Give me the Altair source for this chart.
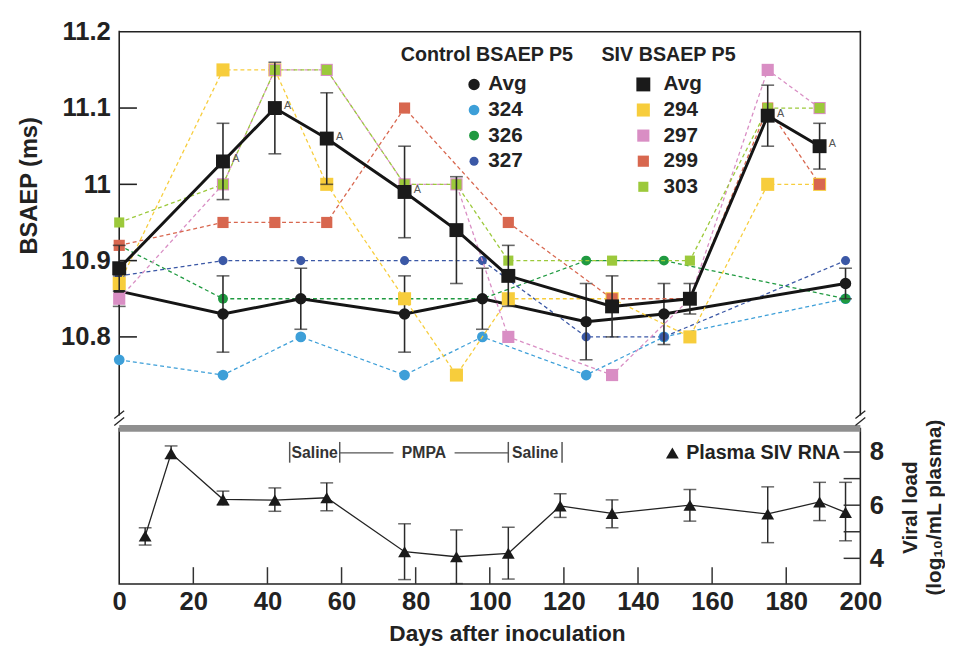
import altair as alt
import pandas as pd

# ---------------- data ----------------
ctrl_days = [0, 28, 49, 77, 98, 126, 147, 196]
ctrl_avg = [10.86, 10.83, 10.85, 10.83, 10.85, 10.82, 10.83, 10.87]
ctrl_lo = [10.84, 10.78, 10.81, 10.78, 10.81, 10.77, 10.79, 10.85]
ctrl_hi = [10.88, 10.88, 10.89, 10.88, 10.89, 10.87, 10.87, 10.89]
ctrl_324 = [10.77, 10.75, 10.80, 10.75, 10.80, 10.75, 10.80, 10.85]
ctrl_326 = [10.92, 10.85, 10.85, 10.85, 10.85, 10.90, 10.90, 10.85]
ctrl_327 = [10.88, 10.90, 10.90, 10.90, 10.90, 10.80, 10.80, 10.90]

siv_days = [0, 28, 42, 56, 77, 91, 105, 133, 154, 175, 189]
siv_avg = [10.89, 11.03, 11.10, 11.06, 10.99, 10.94, 10.88, 10.84, 10.85, 11.09, 11.05]
siv_lo = [10.86, 10.98, 11.04, 11.00, 10.93, 10.87, 10.84, 10.80, 10.83, 11.05, 11.02]
siv_hi = [10.92, 11.08, 11.16, 11.12, 11.05, 11.01, 10.92, 10.88, 10.87, 11.13, 11.08]
siv_294 = [10.87, 11.15, 11.15, 11.00, 10.85, 10.75, 10.85, 10.85, 10.80, 11.00, 11.00]
siv_297 = [10.85, 11.00, 11.15, 11.15, 11.00, 11.00, 10.80, 10.75, 10.85, 11.15, 11.10]
siv_299 = [10.92, 10.95, 10.95, 10.95, 11.10, None, 10.95, 10.85, 10.85, 11.10, 11.00]
siv_303 = [10.95, 11.00, 11.15, 11.15, 11.00, 11.00, 10.90, 10.90, 10.90, 11.10, 11.10]
siv_sig = [False, True, True, True, True, False, False, False, False, True, True]

vl_days = [7, 14, 28, 42, 56, 77, 91, 105, 119, 133, 154, 175, 189, 196]
vl_mean = [4.84, 7.95, 6.22, 6.19, 6.28, 4.25, 4.06, 4.19, 5.97, 5.69, 6.00, 5.67, 6.12, 5.73]
vl_lo = [4.50, 7.75, 6.00, 5.77, 5.79, 3.20, 3.05, 3.22, 5.54, 5.15, 5.40, 4.59, 5.42, 4.66]
vl_hi = [5.15, 8.23, 6.53, 6.65, 6.84, 5.30, 5.07, 5.17, 6.43, 6.20, 6.59, 6.69, 6.86, 6.86]

phase_bounds = [46, 59.5, 105, 119.5]
phase_names = ["Saline", "PMPA", "Saline"]
pmpa_seg_start = [59.5, 90.5]
pmpa_seg_end = [74, 105]

ctrl_series = ["Avg", "324", "326", "327"]
siv_series = ["Avg", "294", "297", "299", "303"]
vl_series = ["Plasma SIV RNA"]

top_label_values = [10.8, 10.9, 11.0, 11.1, 11.2]
top_tick_values = [10.8, 10.9, 11.0, 11.1]
bot_x_labels = [0, 20, 40, 60, 80, 100, 120, 140, 160, 180, 200]
bot_x_ticks = [20, 40, 60, 80, 100, 120, 140, 160, 180]
bot_y_labels = [4, 6, 8]
bot_y_ticks = [4, 5, 6, 7, 8]

# ---------------- styles ----------------
F = "Liberation Sans"
INK = "#222222"
ctrl_colors = ["#1a1a1a", "#3d9fd8", "#1f9a40", "#3b58a6"]
siv_colors = ["#1a1a1a", "#f7cd3c", "#d98ec4", "#d8674f", "#9cc93b"]
W, HT, HB = 753, 390, 158

# ---------------- tables ----------------
def long_table(days, series):
    rows = []
    for name, vals in series.items():
        for d, v in zip(days, vals):
            if v is not None:
                rows.append({"day": d, "value": v, "series": name})
    return pd.DataFrame(rows)

ctrl_df = long_table(ctrl_days, {"Avg": ctrl_avg, "324": ctrl_324, "326": ctrl_326, "327": ctrl_327})
siv_df = long_table(siv_days, {"Avg": siv_avg, "294": siv_294, "297": siv_297, "299": siv_299, "303": siv_303})
ctrl_err = pd.DataFrame({"day": ctrl_days, "lo": ctrl_lo, "hi": ctrl_hi})
siv_err = pd.DataFrame({"day": siv_days, "lo": siv_lo, "hi": siv_hi})
siv_a = pd.DataFrame({"day": siv_days, "value": siv_avg, "sig": siv_sig})
siv_a = siv_a[siv_a["sig"]]
vl_df = pd.DataFrame({"day": vl_days, "mean": vl_mean, "lo": vl_lo, "hi": vl_hi,
                      "label": vl_series * len(vl_days)})
phase_df = pd.DataFrame({"bound": phase_bounds})
phase_lab = pd.DataFrame({"name": phase_names,
                          "mid": [(a + b) / 2 for a, b in zip(phase_bounds[:-1], phase_bounds[1:])]})
seg_df = pd.DataFrame({"s": pmpa_seg_start, "e": pmpa_seg_end})
one = pd.DataFrame({"k": [0]})

# ---------------- top panel ----------------
x_scale = alt.Scale(domain=[0, 200], nice=False, zero=False)
yt_scale = alt.Scale(domain=[10.6968, 11.2], nice=False, zero=False)
yt_axis = alt.Axis(values=top_label_values, format=".3~g", labelFont=F, labelFontSize=26,
                   labelFontWeight="bold", labelColor=INK, ticks=False, tickSize=0, domain=False,
                   grid=False, labelPadding=9, labelFlush=False, labelOverlap=False,
                   title="BSAEP (ms)", titleFont=F, titleFontSize=24, titleFontWeight="bold",
                   titleColor=INK, titleAngle=270, titleX=-91, titleY=156, titleAlign="center",
                   titleBaseline="middle")

def XT(f="day"):
    return alt.X(f"{f}:Q", scale=x_scale, axis=None)

def YT(f="value"):
    return alt.Y(f"{f}:Q", scale=yt_scale, axis=yt_axis)

frame_l = alt.Chart(one).mark_rule(color=INK, strokeWidth=1.6).encode(
    x=alt.value(0), y=alt.value(-1), y2=alt.value(HT))
frame_t = alt.Chart(one).mark_rule(color=INK, strokeWidth=1.6).encode(
    x=alt.value(0), x2=alt.value(W), y=alt.value(0))
frame_r = alt.Chart(one).mark_rule(color=INK, strokeWidth=1.6).encode(
    x=alt.value(W), y=alt.value(-1), y2=alt.value(HT))
brk_l = alt.Chart(one).mark_rule(color=INK, strokeWidth=1.3).encode(
    x=alt.value(-5), x2=alt.value(5), y=alt.value(HT + 3), y2=alt.value(HT - 5))
brk_r = alt.Chart(one).mark_rule(color=INK, strokeWidth=1.3).encode(
    x=alt.value(W - 5), x2=alt.value(W + 5), y=alt.value(HT + 3), y2=alt.value(HT - 5))
top_ticks = alt.Chart(pd.DataFrame({"value": top_tick_values})).mark_rule(
    color=INK, strokeWidth=1.6).encode(y=YT(), x=alt.value(0), x2=alt.value(18))


def group_layers(df, err, series, colors, sizes, shape, legend):
    cscale = alt.Scale(domain=series, range=colors)
    enc = dict(
        x=XT(), y=YT(),
        color=alt.Color("series:N", scale=cscale, legend=legend),
        shape=alt.Shape("series:N", scale=alt.Scale(domain=series, range=[shape] * len(series)), legend=legend),
        size=alt.Size("series:N", scale=alt.Scale(domain=series, range=sizes), legend=legend),
    )
    lines = []
    for name, col in zip(series[1:], colors[1:]):
        lines.append(
            alt.Chart(df).transform_filter(alt.datum.series == name).mark_line(
                strokeDash=[4, 3], strokeWidth=1.3, color=col).encode(x=XT(), y=YT()))
    pts = alt.Chart(df).transform_filter("datum.series != 'Avg'").mark_point(
        filled=True, opacity=1, strokeWidth=0).encode(**enc)
    ebar = alt.Chart(err).mark_errorbar(ticks=True, size=13, thickness=1.6, color="#2a2a2a").encode(
        x=XT(), y=YT("lo"), y2="hi:Q")
    avg_line = alt.Chart(df).transform_filter("datum.series == 'Avg'").mark_line(
        color="#151515", strokeWidth=3).encode(x=XT(), y=YT())
    avg_pts = alt.Chart(df).transform_filter("datum.series == 'Avg'").mark_point(
        filled=True, opacity=1, strokeWidth=0).encode(**enc)
    return lines + [pts, ebar, avg_line, avg_pts]


ctrl_legend = alt.Legend(orient="none", legendX=286, legendY=14, title="Control BSAEP P5",
                         titleFont=F, titleFontSize=20, titleFontWeight="bold", titleColor=INK,
                         titlePadding=9, labelFont=F, labelFontSize=21, labelFontWeight="bold",
                         labelColor=INK, labelOffset=4, symbolOffset=64, rowPadding=4, padding=0,
                         symbolStrokeWidth=0, direction="vertical")
siv_legend = alt.Legend(orient="none", legendX=490, legendY=14, title="SIV BSAEP P5",
                        titleFont=F, titleFontSize=20, titleFontWeight="bold", titleColor=INK,
                        titlePadding=9, labelFont=F, labelFontSize=21, labelFontWeight="bold",
                        labelColor=INK, labelOffset=10, symbolOffset=32, rowPadding=4, padding=0,
                        symbolStrokeWidth=0, direction="vertical")

ctrl_group = alt.layer(*group_layers(ctrl_df, ctrl_err, ctrl_series, ctrl_colors,
                                     [135, 85, 85, 85], "circle", ctrl_legend))
siv_text = alt.Chart(siv_a).mark_text(text="A", dx=13, dy=-2, fontSize=11, font=F,
                                      color="#555555").encode(x=XT(), y=YT())
siv_group = alt.layer(*group_layers(siv_df, siv_err, siv_series, siv_colors,
                                    [200, 105, 105, 105, 105], "square", siv_legend), siv_text)

top = alt.layer(frame_l, frame_t, frame_r, brk_l, brk_r, top_ticks, ctrl_group, siv_group).resolve_scale(
    color="independent", shape="independent", size="independent"
).properties(width=W, height=HT, view=alt.ViewBackground(strokeOpacity=0))

# ---------------- bottom panel ----------------
yb_scale = alt.Scale(domain=[3.037, 8.889], nice=False, zero=False)
xb_axis = alt.Axis(values=bot_x_labels, labelFont=F, labelFontSize=26, labelFontWeight="bold",
                   labelColor=INK, ticks=False, tickSize=0, domain=False, grid=False, labelPadding=5,
                   labelFlush=False, labelOverlap=False,
                   title="Days after inoculation", titleFont=F, titleFontSize=23,
                   titleFontWeight="bold", titleColor=INK, titleX=394, titleY=57,
                   titleAlign="center", titleBaseline="alphabetic")
yb_axis = alt.Axis(orient="right", values=bot_y_labels, labelFont=F, labelFontSize=26,
                   labelFontWeight="bold", labelColor=INK, ticks=False, tickSize=0, domain=False,
                   grid=False, labelPadding=9, labelFlush=False, labelOverlap=False,
                   title=["Viral load", "(log\u2081\u2080/mL plasma)"], titleFont=F, titleFontSize=21,
                   titleFontWeight="bold", titleColor=INK, titleAngle=270, titleX=51, titleY=80,
                   titleAlign="center", titleBaseline="middle", titleLineHeight=24)

def XB(f="day"):
    return alt.X(f"{f}:Q", scale=x_scale, axis=xb_axis)

def YB(f):
    return alt.Y(f"{f}:Q", scale=yb_scale, axis=yb_axis)

band = alt.Chart(one).mark_rule(color="#8f8f8f", strokeWidth=7).encode(
    x=alt.value(0), x2=alt.value(W), y=alt.value(0))
bbrk_l = alt.Chart(one).mark_rule(color=INK, strokeWidth=1.3).encode(
    x=alt.value(-5), x2=alt.value(5), y=alt.value(-3), y2=alt.value(-11))
bbrk_r = alt.Chart(one).mark_rule(color=INK, strokeWidth=1.3).encode(
    x=alt.value(W - 5), x2=alt.value(W + 5), y=alt.value(-3), y2=alt.value(-11))
xticks = alt.Chart(pd.DataFrame({"day": bot_x_ticks})).mark_rule(color="#333", strokeWidth=1.5).encode(
    x=XB(), y=alt.value(HB), y2=alt.value(HB - 17))
yticks = alt.Chart(pd.DataFrame({"t": bot_y_ticks})).mark_rule(color="#333", strokeWidth=1.5).encode(
    y=YB("t"), x=alt.value(W - 17), x2=alt.value(W))
phase_bars = alt.Chart(phase_df).mark_rule(color="#555", strokeWidth=1.5).encode(
    x=XB("bound"), y=alt.datum(7.6), y2=alt.datum(8.38))
phase_text = alt.Chart(phase_lab).mark_text(font=F, fontSize=16, fontWeight="bold", color="#333",
                                            baseline="middle").encode(
    x=XB("mid"), y=alt.datum(7.97), text="name:N")
segs = alt.Chart(seg_df).mark_rule(color="#555", strokeWidth=1.2).encode(
    x=XB("s"), x2="e:Q", y=alt.datum(7.97))
vl_err = alt.Chart(vl_df).mark_errorbar(ticks=True, size=13, thickness=1.5, color="#2a2a2a").encode(
    x=XB(), y=YB("lo"), y2="hi:Q")
vl_line = alt.Chart(vl_df).mark_line(color="#222", strokeWidth=1.3).encode(x=XB(), y=YB("mean"))
vl_legend = alt.Legend(orient="none", legendX=552, legendY=15, title=None, labelFont=F,
                       labelFontSize=20, labelFontWeight="bold", labelColor=INK, labelOffset=4,
                       padding=0, symbolSize=170, symbolStrokeWidth=0, symbolFillColor="#1a1a1a")
vl_pts = alt.Chart(vl_df).mark_point(filled=True, opacity=1, size=170, color="#1a1a1a", strokeWidth=0).encode(
    x=XB(), y=YB("mean"),
    shape=alt.Shape("label:N", scale=alt.Scale(domain=vl_series, range=["triangle-up"]), legend=vl_legend))

bottom = alt.layer(band, bbrk_l, bbrk_r, xticks, yticks, phase_bars, phase_text, segs,
                   vl_err, vl_line, vl_pts).properties(
    width=W, height=HB, view=alt.ViewBackground(stroke=INK, strokeWidth=1.6))

chart = alt.vconcat(top, bottom, spacing=13, bounds="flush").resolve_scale(
    color="independent", shape="independent", size="independent",
    x="independent", y="independent"
).properties(padding={"left": 10, "top": 6, "right": 0, "bottom": 0}).configure(font=F)

chart.save("out.html", embed_options={"renderer": "svg", "actions": False})
